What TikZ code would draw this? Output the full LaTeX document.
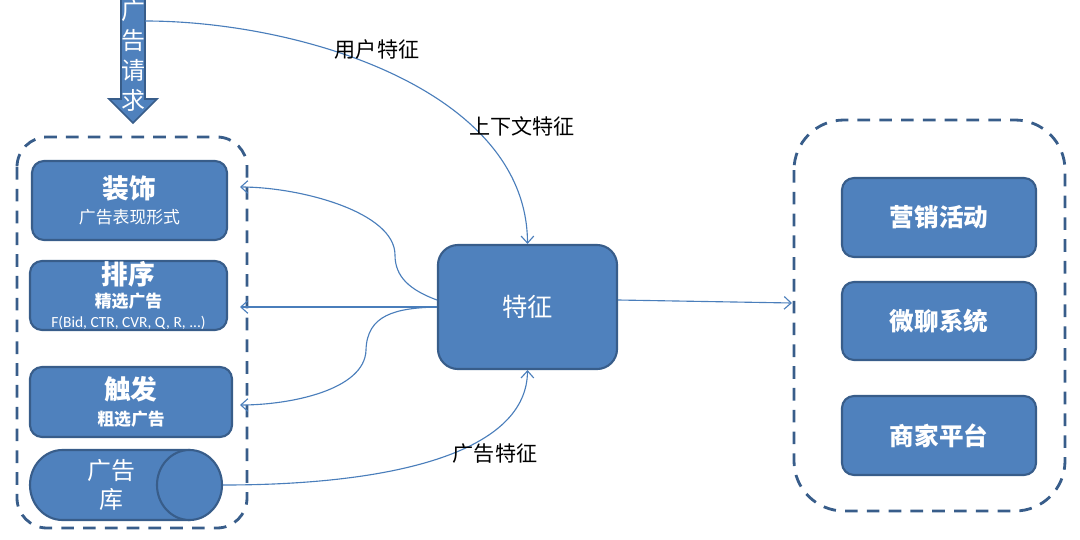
\documentclass[tikz,border=0pt]{standalone}
\usepackage{fontspec}
\setmainfont{Noto Sans CJK SC}
\newfontfamily\latinfont{Carlito}
\usetikzlibrary{arrows.meta,shapes.geometric}

\definecolor{boxfill}{HTML}{4F81BD}
\definecolor{boxline}{HTML}{385D8A}
\definecolor{flowline}{HTML}{4A7EBB}

\tikzset{
  block/.style={draw=boxline, line width=1.5pt, fill=boxfill, text=white,
    rounded corners=0.3cm, align=center, inner sep=0pt},
  group/.style={draw=boxline, line width=2pt, dash pattern=on 9pt off 6.5pt,
    rounded corners=#1},
  flow/.style={draw=flowline, line width=0.8pt,
    -{Straight Barb[length=5pt,width=9pt]}},
  caption/.style={font=\fontsize{15}{18}\selectfont, text=black},
}

\begin{document}
\begin{tikzpicture}[x=0.025cm, y=-0.025cm]
  \useasboundingbox (0,0) rectangle (1080,540);

  % dashed groups
  \draw[group=0.75cm] (17,137) rectangle (247,528);
  \draw[group=1.25cm] (794,120) rectangle (1065,511);

  % ad request arrow
  \draw[fill=boxfill, draw=boxline, line width=1.2pt]
    (121,-5) -- (145,-5) -- (145,99) -- (157,99) -- (133,123) -- (109,99) -- (121,99) -- cycle;
  \node[text=white, align=center, font=\fontsize{17}{21.3}\selectfont] (req) at (133,55) {广\\告\\请\\求};

  % left column
  \node[block, minimum width=4.875cm, minimum height=1.975cm, font=\fontsize{12}{18}\selectfont]
    (zs) at (129.5,200.5) {{\fontsize{19}{22}\selectfont\bfseries 装饰}\\广告表现形式};
  \node[block, minimum width=4.925cm, minimum height=1.725cm, font=\fontsize{12}{16}\selectfont\bfseries]
    (px) at (128.5,295.5) {{\fontsize{19}{22}\selectfont 排序}\\精选广告\\[-2pt]{\latinfont\mdseries\fontsize{11}{13}\selectfont F(Bid, CTR, CVR, Q, R, ...)}};
  \node[block, minimum width=5.05cm, minimum height=1.75cm, font=\fontsize{12}{18}\selectfont\bfseries]
    (cf) at (131,402) {{\fontsize{19}{22}\selectfont 触发}\\粗选广告};

  % ad store (cylinder lying down)
  \draw[fill=boxfill, draw=boxline, line width=1.5pt]
    (189.5,450) -- (62.5,450) arc[start angle=270, end angle=90, x radius=32.5, y radius=35] -- (189.5,520);
  \node[block, ellipse, sharp corners, minimum width=1.625cm, minimum height=1.75cm]
    (adlib) at (189.5,485) {};
  \node[text=white, align=center, font=\fontsize{17}{20}\selectfont] (adlibtxt) at (111,485) {广告\\库};

  % feature box
  \node[block, rounded corners=0.5cm, minimum width=4.475cm, minimum height=3.1cm, font=\fontsize{18}{22}\selectfont]
    (tz) at (527.5,307) {特征};

  % right column
  \node[block, minimum width=4.85cm, minimum height=1.975cm, font=\fontsize{17.5}{21}\selectfont\bfseries]
    (yx) at (939,217.5) {营销活动};
  \node[block, minimum width=4.85cm, minimum height=1.95cm, font=\fontsize{17.5}{21}\selectfont\bfseries]
    (wl) at (939,321) {微聊系统};
  \node[block, minimum width=4.85cm, minimum height=1.975cm, font=\fontsize{17.5}{21}\selectfont\bfseries]
    (sj) at (939,435.5) {商家平台};

  % arrow ends
  \coordinate (reqout) at (145,21);
  \coordinate (zsin) at (240,187);
  \coordinate (pxin) at (240,307);
  \coordinate (cfin) at (240,405);
  \coordinate (rgin) at (792,303);

  % connectors
  \draw[flow] (reqout) .. controls (300,21) and (527,90) .. (tz.north); % user / context
  \draw[flow] (adlib.east) .. controls (400,485) and (527,450) .. (tz.south); % ad features
  \draw[flow] (tz.west) ++(0,-7) .. controls (410,290) and (395,277) .. (395,255)
    .. controls (395,212) and (300,187) .. (zsin); % -> decoration
  \draw[flow] (tz.west) -- (pxin); % -> ranking
  \draw[flow] (tz.west) .. controls (395,308) and (367,315) .. (366,350)
    .. controls (365,390) and (290,405) .. (cfin); % -> trigger
  \draw[flow] (tz.east) ++(0,-7) -- (rgin); % -> apps

  % labels
  \node[caption] (yhtz) at (377,49) {用户特征};
  \node[caption] (sxwtz) at (522,126) {上下文特征};
  \node[caption] (ggtz) at (495,454) {广告特征};
\end{tikzpicture}
\end{document}
